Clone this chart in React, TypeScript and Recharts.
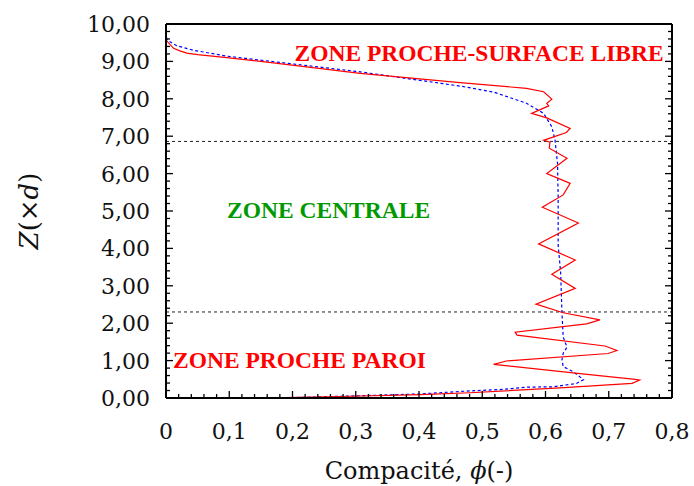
import { Line, LineChart, ReferenceDot, ReferenceLine, XAxis, YAxis } from "recharts";

// Compacité (phi) vs hauteur Z (en diamètres d)
const redPhi = [
  0.144, 0.275, 0.402, 0.481, 0.623, 0.737, 0.749, 0.742, 0.662, 0.518, 0.538, 0.699, 0.713, 0.694,
  0.555, 0.552, 0.665, 0.686, 0.628, 0.585, 0.647, 0.61, 0.647, 0.589, 0.652, 0.595, 0.628, 0.639,
  0.602, 0.634, 0.606, 0.607, 0.597, 0.633, 0.639, 0.602, 0.578, 0.605, 0.602, 0.61, 0.597, 0.57,
  0.465, 0.307, 0.15, 0.096, 0.05, 0.033, 0.022, 0.012, 0.001, 0
];
const redZ = [
  0.0, 0.04, 0.09, 0.14, 0.27, 0.39, 0.48, 0.5, 0.64, 0.9, 0.99, 1.19, 1.27, 1.39, 1.68, 1.76, 1.98,
  2.09, 2.28, 2.51, 2.93, 3.31, 3.69, 4.12, 4.68, 5.1, 5.43, 5.74, 6.0, 6.41, 6.68, 6.84, 6.89, 7.1,
  7.21, 7.49, 7.61, 7.81, 7.88, 7.99, 8.19, 8.28, 8.43, 8.68, 9.0, 9.1, 9.18, 9.22, 9.28, 9.35, 9.55,
  9.62
];

const bluePhi = [
  0.18, 0.307, 0.402, 0.481, 0.533, 0.57, 0.612, 0.649, 0.66, 0.644, 0.628, 0.626, 0.628, 0.634,
  0.628, 0.626, 0.624, 0.62, 0.62, 0.619, 0.615, 0.61, 0.597, 0.57, 0.518, 0.465, 0.307, 0.096,
  0.043, 0.017, 0.002, 0
];
const blueZ = [
  0.0, 0.06, 0.11, 0.19, 0.23, 0.29, 0.3, 0.39, 0.49, 0.7, 0.84, 1.02, 1.2, 1.36, 1.63, 2.3, 3.34,
  4.09, 5.37, 6.28, 6.9, 7.25, 7.61, 7.88, 8.18, 8.34, 8.72, 9.14, 9.3, 9.42, 9.57, 9.68
];

const xMajor = [0, 0.1, 0.2, 0.3, 0.4, 0.5, 0.6, 0.7, 0.8];
const yMajor = [0, 1, 2, 3, 4, 5, 6, 7, 8, 9, 10];
const zoneLimits = [6.86, 2.3];

const red = redPhi.map((phi, i) => ({ phi, z: redZ[i] }));
const blue = bluePhi.map((phi, i) => ({ phi, z: blueZ[i] }));

// 4 graduations secondaires entre deux graduations principales
const withMinor = (major: number[]) => {
  const out: number[] = [];
  major.forEach((v, i) => {
    out.push(v);
    if (i < major.length - 1) {
      const step = (major[i + 1] - v) / 5;
      for (let k = 1; k < 5; k++) out.push(+(v + k * step).toFixed(4));
    }
  });
  return out;
};
const xTicks = withMinor(xMajor);
const yTicks = withMinor(yMajor);

const isMajor = (v: number, major: number[]) => major.some((m) => Math.abs(m - v) < 1e-6);
const fmtX = (v: number) => (v === 0 ? "0" : v.toFixed(1).replace(".", ","));
const fmtY = (v: number) => v.toFixed(2).replace(".", ",");

const TICK_FONT = "'DejaVu Serif', serif";
const ZONE_FONT = "'Liberation Serif', serif";
const X_MARGIN = 25;
const Y_MARGIN = 16;
const BIG = 7;
const SMALL = 4;

const BottomTick = (p: any) => {
  const v = p.payload.value;
  const major = isMajor(v, xMajor);
  const y0 = p.y - X_MARGIN;
  return (
    <g>
      <line x1={p.x} x2={p.x} y1={y0} y2={y0 - (major ? BIG : SMALL)} stroke="#000" strokeWidth={1.3} />
      {major && (
        <text x={p.x} y={p.y} dy="0.71em" textAnchor="middle" fontFamily={TICK_FONT} fontSize={22} fill="#111">
          {fmtX(v)}
        </text>
      )}
    </g>
  );
};

const TopTick = (p: any) => {
  const major = isMajor(p.payload.value, xMajor);
  return <line x1={p.x} x2={p.x} y1={p.y} y2={p.y + (major ? BIG : SMALL)} stroke="#000" strokeWidth={1.3} />;
};

const LeftTick = (p: any) => {
  const v = p.payload.value;
  const major = isMajor(v, yMajor);
  const x0 = p.x + Y_MARGIN;
  return (
    <g>
      <line x1={x0} x2={x0 + (major ? BIG : SMALL)} y1={p.y} y2={p.y} stroke="#000" strokeWidth={1.3} />
      {major && (
        <text x={p.x} y={p.y} dy="0.36em" textAnchor="end" fontFamily={TICK_FONT} fontSize={22} fill="#111">
          {fmtY(v)}
        </text>
      )}
    </g>
  );
};

const RightTick = (p: any) => {
  const major = isMajor(p.payload.value, yMajor);
  return <line x1={p.x} x2={p.x - (major ? BIG : SMALL)} y1={p.y} y2={p.y} stroke="#000" strokeWidth={1.3} />;
};

const XTitle = (props: any) => {
  const vb = props.viewBox;
  return (
    <text x={vb.x + vb.width / 2} y={vb.y + 81} textAnchor="middle" fontFamily={TICK_FONT} fontSize={24} fill="#111">
      Compacité, <tspan fontStyle="italic">ϕ</tspan>(-)
    </text>
  );
};

const YTitle = (props: any) => {
  const vb = props.viewBox;
  const x = vb.x + 29;
  const y = vb.y + vb.height / 2;
  return (
    <text
      x={x}
      y={y}
      dy="0.35em"
      textAnchor="middle"
      transform={`rotate(-90, ${x}, ${y})`}
      fontFamily={TICK_FONT}
      fontSize={26}
      fill="#111"
    >
      <tspan fontStyle="italic">Z</tspan>(×<tspan fontStyle="italic">d</tspan>)
    </text>
  );
};

const zoneText = (label: string, color: string) => (p: any) => (
  <text x={p.cx} y={p.cy} textAnchor="middle" fontFamily={ZONE_FONT} fontWeight="bold" fontSize={23.5} fill={color}>
    {label}
  </text>
);

const axisLine = { stroke: "#000", strokeWidth: 2 };

export default function App() {
  return (
    <div style={{ position: "absolute", left: 0, top: 0, background: "#fff" }}>
      <LineChart width={694} height={486} margin={{ top: 23, right: 21, bottom: 0, left: 0 }}>
        <XAxis
          xAxisId="b"
          dataKey="phi"
          type="number"
          domain={[0, 0.8]}
          allowDataOverflow
          ticks={xTicks}
          interval={0}
          height={88}
          tickSize={0}
          tickMargin={X_MARGIN}
          tickLine={false}
          axisLine={axisLine}
          tick={BottomTick}
          label={XTitle}
        />
        <XAxis
          xAxisId="t"
          orientation="top"
          type="number"
          domain={[0, 0.8]}
          allowDataOverflow
          ticks={xTicks}
          interval={0}
          height={1}
          tickSize={0}
          tickMargin={0}
          tickLine={false}
          axisLine={axisLine}
          tick={TopTick}
        />
        <YAxis
          yAxisId="l"
          type="number"
          domain={[0, 10]}
          allowDataOverflow
          ticks={yTicks}
          interval={0}
          width={166}
          tickSize={0}
          tickMargin={Y_MARGIN}
          tickLine={false}
          axisLine={axisLine}
          tick={LeftTick}
          label={YTitle}
        />
        <YAxis
          yAxisId="r"
          orientation="right"
          type="number"
          domain={[0, 10]}
          allowDataOverflow
          ticks={yTicks}
          interval={0}
          width={1}
          tickSize={0}
          tickMargin={0}
          tickLine={false}
          axisLine={axisLine}
          tick={RightTick}
        />

        {zoneLimits.map((z) => (
          <ReferenceLine key={z} xAxisId="b" yAxisId="l" y={z} stroke="#222" strokeWidth={1} strokeDasharray="3 3" />
        ))}

        <Line
          xAxisId="b"
          yAxisId="l"
          data={blue}
          dataKey="z"
          type="linear"
          dot={false}
          stroke="#0000ff"
          strokeWidth={1.2}
          strokeDasharray="3 2.5"
          isAnimationActive={false}
        />
        <Line
          xAxisId="b"
          yAxisId="l"
          data={red}
          dataKey="z"
          type="linear"
          dot={false}
          stroke="#ff0000"
          strokeWidth={1.2}
          isAnimationActive={false}
        />

        <ReferenceDot xAxisId="b" yAxisId="l" x={0.495} y={9.02} r={0} shape={zoneText("ZONE PROCHE-SURFACE LIBRE", "#ff0000")} />
        <ReferenceDot xAxisId="b" yAxisId="l" x={0.257} y={4.8} r={0} shape={zoneText("ZONE CENTRALE", "#009a00")} />
        <ReferenceDot xAxisId="b" yAxisId="l" x={0.211} y={0.8} r={0} shape={zoneText("ZONE PROCHE PAROI", "#ff0000")} />
      </LineChart>
    </div>
  );
}
